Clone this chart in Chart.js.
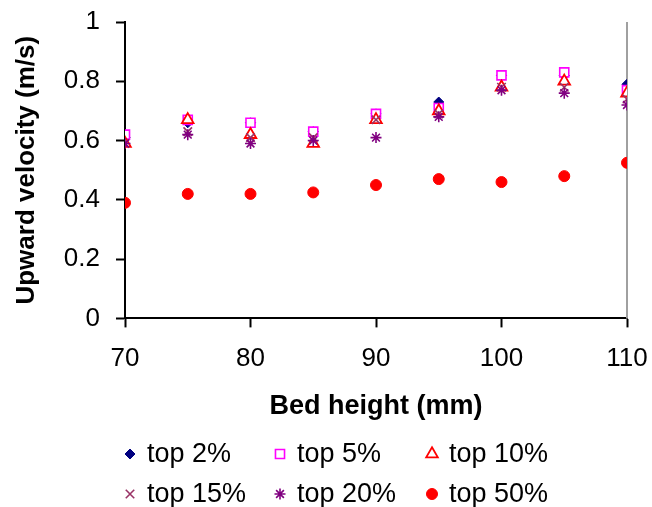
<!DOCTYPE html>
<html>
<head>
<meta charset="utf-8">
<script src="https://cdn.jsdelivr.net/npm/chart.js@4/dist/chart.umd.min.js"></script>
<style>
  html, body { margin: 0; padding: 0; background: #fff; }
  #grafico { display: block; }
</style>
</head>
<body>
<canvas id="grafico" width="652" height="507"></canvas>
<script>
// Dados: altura do leito (mm) e velocidade ascendente (m/s)
const alturas = [70, 75, 80, 85, 90, 95, 100, 105, 110];
const top2  = [0.61, 0.66, 0.66, 0.63, 0.69, 0.73, 0.82, 0.82, 0.79];
const top5  = [0.62, 0.67, 0.66, 0.63, 0.69, 0.71, 0.82, 0.83, 0.77];
const top10 = [0.59, 0.67, 0.62, 0.59, 0.67, 0.70, 0.78, 0.80, 0.76];
const top15 = [0.59, 0.63, 0.61, 0.61, 0.67, 0.69, 0.78, 0.78, 0.74];
const top20 = [0.59, 0.62, 0.59, 0.60, 0.61, 0.68, 0.77, 0.76, 0.72];
const top50 = [0.39, 0.42, 0.42, 0.425, 0.45, 0.47, 0.46, 0.48, 0.525];

const nomesSeries = ['top 2%', 'top 5%', 'top 10%', 'top 15%', 'top 20%', 'top 50%'];
const ticksX = [70, 80, 90, 100, 110];
const ticksY = [0, 0.2, 0.4, 0.6, 0.8, 1];

const fonte = "'Liberation Sans', Arial, sans-serif";

// Estilo dos marcadores de cada série
const estilos = [
  { pointStyle: 'rectRot',  radius: 5,   bg: '#000080', borda: '#000080', bw: 1 },
  { pointStyle: 'rect',     radius: 6.4, bg: '#ffffff', borda: '#ff00ff', bw: 1.6 },
  { pointStyle: 'triangle', radius: 6.7, bg: '#ffffff', borda: '#ff0000', bw: 1.8 },
  { pointStyle: 'crossRot', radius: 6,   bg: '#993366', borda: '#993366', bw: 1.6 },
  { pointStyle: 'star',     radius: 5.5, bg: '#800080', borda: '#800080', bw: 1.6 },
  { pointStyle: 'circle',   radius: 5.5, bg: '#ff0000', borda: '#ff0000', bw: 1 }
];

// Monta os datasets a partir dos vetores
const valores = [top2, top5, top10, top15, top20, top50];
const datasets = valores.map((serie, i) => ({
  label: nomesSeries[i],
  data: alturas.map((h, j) => ({ x: h, y: serie[j] })),
  pointStyle: estilos[i].pointStyle,
  pointRadius: estilos[i].radius,
  pointBackgroundColor: estilos[i].bg,
  pointBorderColor: estilos[i].borda,
  pointBorderWidth: estilos[i].bw,
  showLine: false,
  order: valores.length - i   // última série por cima, como no Excel
}));

// Linha cinza na borda direita da área do gráfico
const bordaDireita = {
  id: 'bordaDireita',
  beforeDatasetsDraw(chart) {
    const { ctx, chartArea } = chart;
    ctx.save();
    ctx.strokeStyle = '#a0a0a0';
    ctx.lineWidth = 2;
    ctx.beginPath();
    ctx.moveTo(chartArea.right, chartArea.top);
    ctx.lineTo(chartArea.right, chartArea.bottom);
    ctx.stroke();
    ctx.restore();
  }
};

// Legenda em grade de 3 colunas x 2 linhas
const legendaGrade = {
  id: 'legendaGrade',
  afterDraw(chart) {
    const ctx = chart.ctx;
    const colMarca = [130, 280, 432];
    const colTexto = [147, 297, 449];
    const linhas = [454, 494];
    ctx.save();
    ctx.font = '27px ' + fonte;
    ctx.textBaseline = 'middle';
    chart.data.datasets.forEach((ds, i) => {
      const c = i % 3, l = Math.floor(i / 3);
      ctx.fillStyle = ds.pointBackgroundColor;
      ctx.strokeStyle = ds.pointBorderColor;
      ctx.lineWidth = ds.pointBorderWidth;
      Chart.helpers.drawPoint(ctx, {
        pointStyle: ds.pointStyle,
        radius: ds.pointRadius,
        rotation: 0,
        borderWidth: ds.pointBorderWidth
      }, colMarca[c], linhas[l]);
      ctx.fillStyle = '#000';
      ctx.fillText(ds.label, colTexto[c], linhas[l] + 1);
    });
    ctx.restore();
  }
};

new Chart(document.getElementById('grafico'), {
  type: 'scatter',
  data: { datasets },
  plugins: [bordaDireita, legendaGrade],
  options: {
    responsive: false,
    animation: false,
    events: [],
    layout: { padding: { top: 22, right: 25, bottom: 84, left: 0 } },
    plugins: {
      legend: { display: false },
      tooltip: { enabled: false }
    },
    scales: {
      x: {
        type: 'linear',
        min: 70,
        max: 110,
        afterBuildTicks: (s) => { s.ticks = ticksX.map(v => ({ value: v })); },
        afterFit: (s) => { s.paddingLeft = 0; s.paddingRight = 0; },
        grid: { drawOnChartArea: false, drawTicks: true, tickLength: 9, tickColor: '#000', tickWidth: 2 },
        border: { display: true, color: '#000', width: 2 },
        ticks: { color: '#000', padding: 16, font: { family: fonte, size: 26 } },
        title: {
          display: true,
          text: 'Bed height (mm)',
          color: '#000',
          padding: { top: 0, bottom: 0 },
          font: { family: fonte, size: 27, weight: 'bold' }
        }
      },
      y: {
        min: 0,
        max: 1,
        afterBuildTicks: (s) => { s.ticks = ticksY.map(v => ({ value: v })); },
        afterFit: (s) => { s.width = 125; s.paddingTop = 0; s.paddingBottom = 0; },
        grid: { drawOnChartArea: false, drawTicks: true, tickLength: 9, tickColor: '#000', tickWidth: 2 },
        border: { display: true, color: '#000', width: 2 },
        ticks: {
          color: '#000',
          padding: 16,
          font: { family: fonte, size: 26 },
          callback: (v) => String(Math.round(v * 10) / 10)
        },
        title: {
          display: true,
          text: 'Upward velocity (m/s)',
          color: '#000',
          padding: { top: 11, bottom: 0 },
          font: { family: fonte, size: 26, weight: 'bold' }
        }
      }
    }
  }
});
</script>
</body>
</html>
